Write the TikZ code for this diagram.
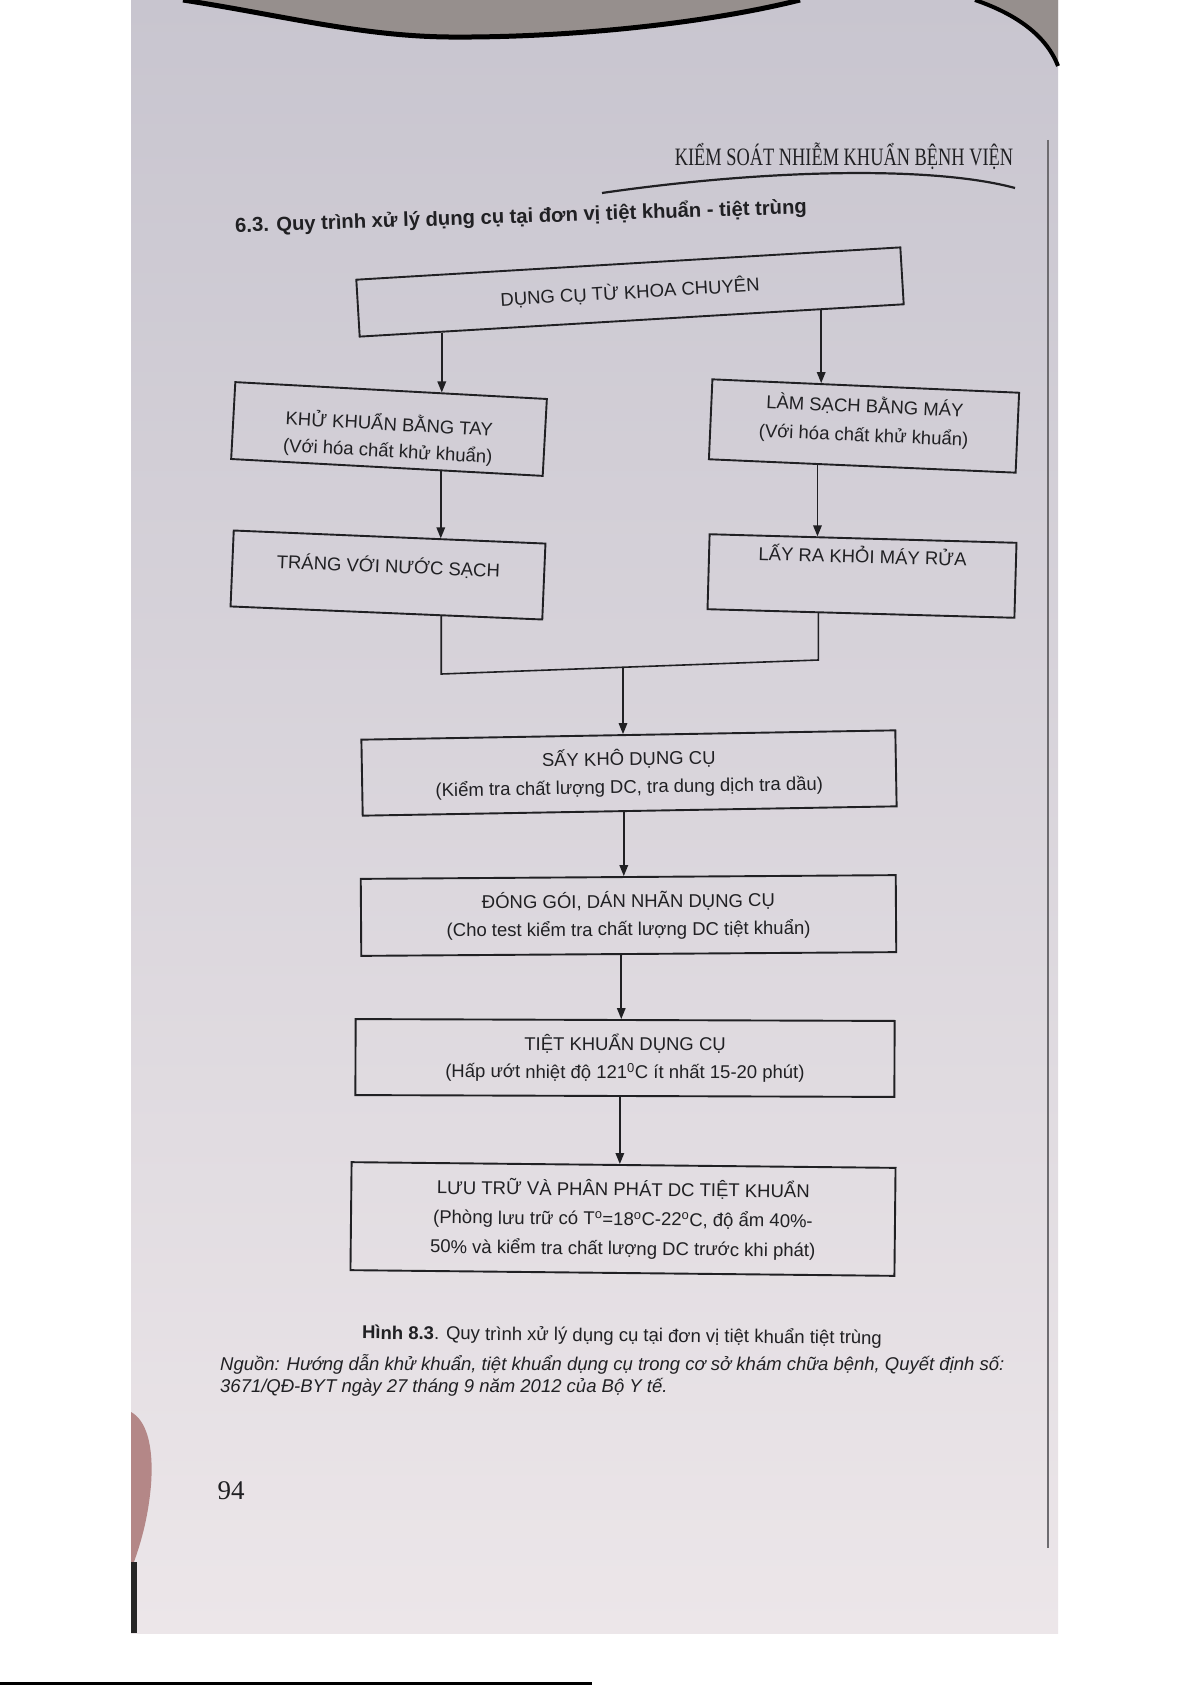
\documentclass[tikz,border=0pt]{standalone}
\usepackage{fontspec}
\setmainfont{Liberation Sans}
\newfontfamily\hdrfont[FakeStretch=0.735]{Liberation Serif}
\newfontfamily\pgfont{Liberation Serif}
\usetikzlibrary{arrows.meta,calc}
\definecolor{pagetop}{RGB}{200,197,207}
\definecolor{pagebot}{RGB}{236,230,233}
\definecolor{ink}{RGB}{32,32,35}
\definecolor{bgdark}{RGB}{150,143,141}
\definecolor{fingerc}{RGB}{180,135,135}
\definecolor{edgegray}{RGB}{110,108,112}
\tikzset{
  box/.style={draw=ink, line width=1.9pt, text=ink, align=center, inner sep=4pt,
    font=\fontsize{18.5}{28}\selectfont},
  conn/.style={draw=ink, line width=1.6pt},
  arr/.style={draw=ink, line width=1.6pt, -{Triangle[length=11pt,width=8.5pt]}},
  txt/.style={text=ink, inner sep=0pt}
}
\begin{document}
\begin{tikzpicture}[x=1pt,y=-1pt]
\useasboundingbox (0,0) rectangle (1191,1685);
% page
\fill[white] (0,0) rectangle (1191,1685);
\shade[top color=pagetop, bottom color=pagebot] (131,0) rectangle (1058,1633);
\fill[bgdark] (183,0) .. controls (280,15) and (360,36) .. (448,37) .. controls (560,38) and (700,25) .. (800,0) -- cycle;
\draw[black, line width=5pt] (183,0) .. controls (280,15) and (360,36) .. (448,37) .. controls (560,38) and (700,25) .. (800,0);
\fill[bgdark] (975,0) .. controls (1010,12) and (1045,32) .. (1058,66) -- (1058,0) -- cycle;
\draw[black, line width=4pt] (975,0) .. controls (1010,12) and (1045,32) .. (1058,66);
\draw[edgegray, line width=2pt] (1048,140) -- (1048,1548);
\fill[fingerc] (131,1412) .. controls (146,1420) and (154,1445) .. (151,1485) .. controls (148,1520) and (140,1545) .. (134,1562) -- (131,1562) -- cycle;
\fill[black!85] (131,1562) rectangle (137,1633);
\draw[black, line width=2.5pt] (0,1683.5) -- (592,1683.5);

% header
\node[txt, font=\hdrfont\fontsize{25}{28}\selectfont] (hdr) at (844,156) {KIỂM SOÁT NHIỄM KHUẨN BỆNH VIỆN};
\draw[ink, line width=2.2pt] (602,193) .. controls (760,170) and (930,165) .. (1015,188);

% title
\node[txt, font=\bfseries\fontsize{20.2}{24}\selectfont, rotate=1.9] (title) at (521,217) {6.3. Quy trình xử lý dụng cụ tại đơn vị tiệt khuẩn - tiệt trùng};

% boxes
\node[box, rotate=3.4, minimum width=545pt, minimum height=57pt] (A) at (630,292) {DỤNG CỤ TỪ KHOA CHUYÊN};
\node[box, rotate=-3.1, minimum width=312pt, minimum height=77pt] (L1) at (389,429) {\strut\\[-14pt]KHỬ KHUẨN BẰNG TAY\\[-1pt](Với hóa chất khử khuẩn)};
\node[box, rotate=-2.5, minimum width=307pt, minimum height=80pt] (R1) at (864,426) {LÀM SẠCH BẰNG MÁY\\[1pt](Với hóa chất khử khuẩn)\\[-22pt]\strut};
\node[box, rotate=-2.4, minimum width=312pt, minimum height=76pt] (L2) at (388,575) {TRÁNG VỚI NƯỚC SẠCH\\[-16pt]\strut};
\node[box, rotate=-1.6, minimum width=307pt, minimum height=75pt] (R2) at (862,576) {LẤY RA KHỎI MÁY RỬA\\[6pt]\strut};
\node[box, rotate=1.0, minimum width=534pt, minimum height=76pt] (S) at (629,773) {SẤY KHÔ DỤNG CỤ\\(Kiểm tra chất lượng DC, tra dung dịch tra dầu)};
\node[box, rotate=0.4, minimum width=535pt, minimum height=77pt] (D) at (628.5,915.5) {ĐÓNG GÓI, DÁN NHÃN DỤNG CỤ\\(Cho test kiểm tra chất lượng DC tiệt khuẩn)};
\node[box, rotate=-0.2, minimum width=539pt, minimum height=76pt] (T) at (625,1058) {TIỆT KHUẨN DỤNG CỤ\\(Hấp ướt nhiệt độ 121\textsuperscript{0}C ít nhất 15-20 phút)};
\node[box, rotate=-0.6, minimum width=544pt, minimum height=108pt, font=\fontsize{18.5}{29.5}\selectfont] (Lu) at (623,1219) {LƯU TRỮ VÀ PHÂN PHÁT DC TIỆT KHUẨN\\(Phòng lưu trữ có T\textsuperscript{o}=18\textsuperscript{o}C-22\textsuperscript{o}C, độ ẩm 40\%-\\50\% và kiểm tra chất lượng DC trước khi phát)};

% connector points
\coordinate (a1) at ($(A.south west)!0.152!(A.south east)$);
\coordinate (t1) at ($(L1.north west)!0.67!(L1.north east)$);
\coordinate (a2) at ($(A.south west)!0.847!(A.south east)$);
\coordinate (t2) at ($(R1.north west)!0.355!(R1.north east)$);
\coordinate (b1) at ($(L1.south west)!0.672!(L1.south east)$);
\coordinate (t3) at ($(L2.north west)!0.675!(L2.north east)$);
\coordinate (b2) at ($(R1.south west)!0.355!(R1.south east)$);
\coordinate (t4) at ($(R2.north west)!0.362!(R2.north east)$);
\coordinate (c1) at ($(L2.south west)!0.675!(L2.south east)$);
\coordinate (c2) at ($(R2.south west)!0.362!(R2.south east)$);
\coordinate (yL) at (0,674);
\coordinate (yR) at (0,660);
\coordinate (m1) at (c1 |- yL);
\coordinate (m2) at (c2 |- yR);
\coordinate (j) at ($(m1)!0.482!(m2)$);
\coordinate (tS) at ($(S.north west)!0.49!(S.north east)$);
\coordinate (sb) at ($(S.south west)!0.489!(S.south east)$);
\coordinate (tD) at ($(D.north west)!0.49!(D.north east)$);
\coordinate (db) at ($(D.south west)!0.486!(D.south east)$);
\coordinate (tT) at ($(T.north west)!0.4926!(T.north east)$);
\coordinate (tb) at ($(T.south west)!0.4907!(T.south east)$);
\coordinate (tL) at ($(Lu.north west)!0.4945!(Lu.north east)$);

% connectors
\draw[arr] (a1) -- (a1 |- t1);
\draw[arr] (a2) -- (a2 |- t2);
\draw[arr] (b1) -- (b1 |- t3);
\draw[arr] (b2) -- (b2 |- t4);
\draw[conn] (c1) -- (m1) -- (m2) -- (c2);
\draw[arr] (j) -- (j |- tS);
\draw[arr] (sb) -- (sb |- tD);
\draw[arr] (db) -- (db |- tT);
\draw[arr] (tb) -- (tb |- tL);

% caption and source
\node[txt, font=\fontsize{18.5}{22}\selectfont, rotate=-0.6] (cap) at (622,1336) {\textbf{Hình 8.3}. Quy trình xử lý dụng cụ tại đơn vị tiệt khuẩn tiệt trùng};
\node[txt, anchor=west, font=\itshape\fontsize{18.5}{22}\selectfont] (src1) at (220,1364) {Nguồn: Hướng dẫn khử khuẩn, tiệt khuẩn dụng cụ trong cơ sở khám chữa bệnh, Quyết định số:};
\node[txt, anchor=west, font=\itshape\fontsize{18.5}{22}\selectfont] (src2) at (220,1387) {3671/QĐ-BYT ngày 27 tháng 9 năm 2012 của Bộ Y tế.};

% page number
\node[txt, font=\pgfont\fontsize{27}{30}\selectfont] (pg) at (231,1491) {94};
\end{tikzpicture}
\end{document}
